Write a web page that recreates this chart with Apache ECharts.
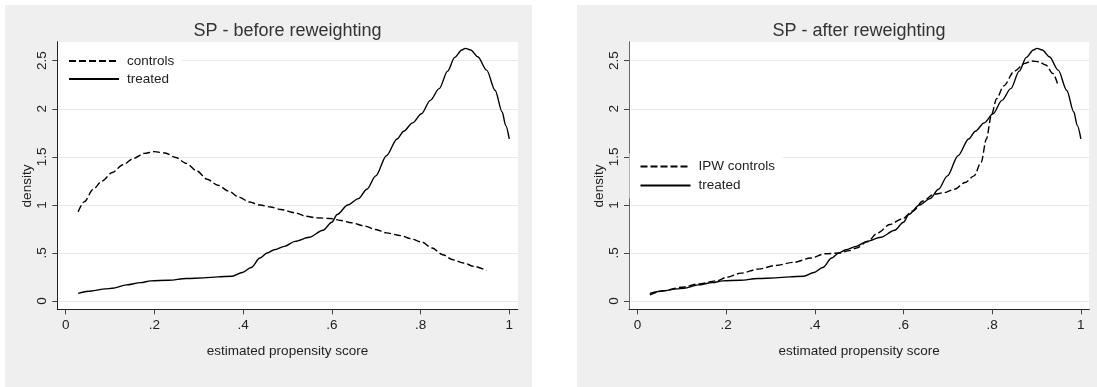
<!DOCTYPE html>
<html>
<head>
<meta charset="utf-8">
<script src="https://cdn.jsdelivr.net/npm/echarts@6/dist/echarts.min.js"></script>
<style>
html,body{margin:0;padding:0;background:#fff;}
#chart{width:1097px;height:387px;}
</style>
</head>
<body>
<div id="chart"></div>
<script>
// ---- data ----
const xTicks = [0, 0.2, 0.4, 0.6, 0.8, 1];
const xTickLabels = ['0', '.2', '.4', '.6', '.8', '1'];
const yTicks = [0, 0.5, 1, 1.5, 2, 2.5];
const yTickLabels = ['0', '.5', '1', '1.5', '2', '2.5'];

const treatedX = [0.028,0.058,0.089,0.105,0.137,0.169,0.192,0.232,0.272,0.311,0.343,0.375,0.398,0.418,0.438,0.454,0.470,0.493,0.517,0.549,0.580,0.600,0.612,0.636,0.660,0.679,0.699,0.723,0.747,0.762,0.782,0.802,0.822,0.842,0.861,0.877,0.893,0.901,0.913,0.929,0.949,0.968,0.984,0.992,1.0];
const treatedY = [0.080,0.105,0.126,0.133,0.168,0.192,0.210,0.216,0.234,0.241,0.251,0.258,0.297,0.349,0.447,0.499,0.534,0.569,0.621,0.663,0.737,0.820,0.900,0.999,1.065,1.163,1.302,1.512,1.686,1.767,1.854,1.948,2.088,2.210,2.392,2.535,2.612,2.629,2.612,2.542,2.402,2.193,1.966,1.826,1.686];

const controlsX = [0.028,0.042,0.062,0.082,0.105,0.129,0.153,0.177,0.200,0.224,0.248,0.272,0.295,0.319,0.343,0.367,0.390,0.414,0.438,0.462,0.485,0.517,0.541,0.565,0.596,0.620,0.644,0.675,0.699,0.723,0.755,0.778,0.802,0.826,0.850,0.873,0.897,0.921,0.949];
const controlsY = [0.929,1.034,1.163,1.250,1.337,1.418,1.484,1.536,1.554,1.540,1.494,1.432,1.355,1.267,1.205,1.145,1.082,1.030,0.999,0.978,0.953,0.918,0.883,0.866,0.859,0.838,0.814,0.779,0.744,0.709,0.681,0.649,0.615,0.552,0.482,0.429,0.395,0.360,0.318];

const ipwX = [0.028,0.059,0.099,0.138,0.178,0.202,0.233,0.273,0.312,0.352,0.391,0.423,0.455,0.478,0.494,0.518,0.542,0.569,0.597,0.621,0.644,0.668,0.692,0.715,0.739,0.759,0.775,0.787,0.798,0.810,0.826,0.850,0.874,0.889,0.905,0.921,0.937,0.949];
const ipwY = [0.063,0.108,0.143,0.178,0.210,0.248,0.290,0.332,0.370,0.402,0.447,0.492,0.499,0.524,0.552,0.615,0.709,0.796,0.855,0.936,1.040,1.110,1.128,1.163,1.233,1.302,1.442,1.686,1.931,2.105,2.238,2.392,2.472,2.497,2.490,2.455,2.367,2.238];

const zip = (xs, ys) => xs.map((x, i) => [x, ys[i]]);

const FONT = '"Liberation Sans", Arial, Helvetica, sans-serif';
const TXT = '#222';
const X_MIN = -0.019, X_MAX = 1.019;
const Y_MIN = -0.086, Y_MAX = 2.698;

function xAxisCfg(gridIndex) {
  return {
    type: 'value', gridIndex, min: X_MIN, max: X_MAX, position: 'bottom',
    name: 'estimated propensity score', nameLocation: 'middle', nameGap: 35,
    nameTextStyle: { fontFamily: FONT, fontSize: 13.5, color: TXT },
    axisLine: { show: true, onZero: false, lineStyle: { color: '#222', width: 1 } },
    axisTick: { show: true, inside: false, length: 5, customValues: xTicks, lineStyle: { color: '#444' } },
    axisLabel: { show: true, customValues: xTicks, margin: 9, fontFamily: FONT, fontSize: 13.5, color: TXT,
      formatter: v => xTickLabels[xTicks.findIndex(t => Math.abs(t - v) < 1e-9)] ?? '' },
    splitLine: { show: false }
  };
}
function yAxisCfg(gridIndex, axisColor) {
  return {
    type: 'value', gridIndex, min: Y_MIN, max: Y_MAX, position: 'left',
    name: 'density', nameLocation: 'middle', nameGap: 22,
    nameTextStyle: { fontFamily: FONT, fontSize: 13.5, color: TXT, padding: [0, 21, 0, 0] },
    axisLine: { show: true, onZero: false, lineStyle: { color: axisColor, width: 1 } },
    axisTick: { show: true, inside: false, length: 5, customValues: yTicks, lineStyle: { color: '#444' } },
    axisLabel: { show: true, customValues: yTicks, rotate: 90, margin: 8, fontFamily: FONT, fontSize: 13.5, color: TXT,
      formatter: v => yTickLabels[yTicks.findIndex(t => Math.abs(t - v) < 1e-9)] ?? '' },
    splitLine: { show: true, lineStyle: { color: '#e9e9e9', width: 1 } }
  };
}
function lineSeries(name, data, idx, dashed) {
  return {
    type: 'line', name, data, xAxisIndex: idx, yAxisIndex: idx,
    symbol: 'none', symbolSize: 0, smooth: 0.3, smoothMonotone: 'x', silent: true,
    lineStyle: { color: '#000', width: 1.4, type: dashed ? [7, 3] : 'solid' },
    itemStyle: { color: '#000' }, z: 3
  };
}

const legendCommon = {
  orient: 'vertical', itemWidth: 50, itemHeight: 14,
  backgroundColor: '#ffffff', selectedMode: false,
  itemStyle: { opacity: 0, borderWidth: 0 },
  textStyle: { fontFamily: FONT, fontSize: 13.5, color: TXT, padding: [0, 0, 0, 3] }
};

const chart = echarts.init(document.getElementById('chart'), null, { renderer: 'canvas' });
chart.setOption({
  animation: false,
  backgroundColor: '#ffffff',
  graphic: [
    { type: 'rect', z: -10, shape: { x: 5, y: 5, width: 527, height: 382 }, style: { fill: '#efefef' } },
    { type: 'rect', z: -10, shape: { x: 577, y: 5, width: 520, height: 382 }, style: { fill: '#efefef' } },
    { type: 'rect', z: -9, shape: { x: 57, y: 42, width: 461, height: 267 }, style: { fill: '#ffffff' } },
    { type: 'rect', z: -9, shape: { x: 629, y: 42, width: 460, height: 267 }, style: { fill: '#ffffff' } }
  ],
  title: [
    { text: 'SP - before reweighting', left: 287.5, top: 22, textAlign: 'center', padding: 0,
      textStyle: { fontFamily: FONT, fontSize: 18, fontWeight: 'normal', color: '#333' } },
    { text: 'SP - after reweighting', left: 859, top: 22, textAlign: 'center', padding: 0,
      textStyle: { fontFamily: FONT, fontSize: 18, fontWeight: 'normal', color: '#333' } }
  ],
  grid: [
    { left: 57.3, top: 41.7, width: 460.4, height: 267.6, containLabel: false },
    { left: 629, top: 41.7, width: 460.3, height: 267.6, containLabel: false }
  ],
  xAxis: [xAxisCfg(0), xAxisCfg(1)],
  yAxis: [yAxisCfg(0, '#222'), yAxisCfg(1, '#666')],
  legend: [
    Object.assign({ data: ['controls', 'treated'], left: 58, top: 48, padding: [6, 8, 6, 10], itemGap: 4 }, legendCommon),
    Object.assign({ data: ['IPW controls', 'treated'], left: 629.5, top: 153.5, padding: [6, 8, 6, 10], itemGap: 5 }, legendCommon)
  ],
  series: [
    lineSeries('controls', zip(controlsX, controlsY), 0, true),
    lineSeries('treated', zip(treatedX, treatedY), 0, false),
    lineSeries('IPW controls', zip(ipwX, ipwY), 1, true),
    lineSeries('treated', zip(treatedX, treatedY), 1, false)
  ]
});
</script>
</body>
</html>
